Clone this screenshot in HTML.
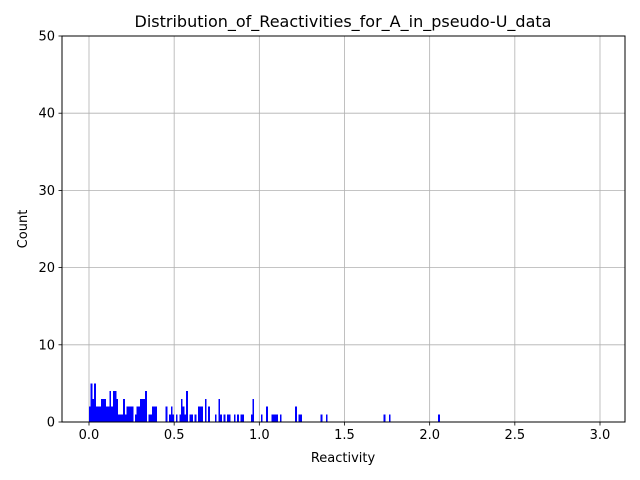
<!DOCTYPE html>
<html><head><meta charset="utf-8"><style>
body{margin:0;background:#fff}
svg{display:block;font-family:"DejaVu Sans","Liberation Sans",sans-serif}
</style></head><body>
<svg id="chart" width="640" height="480" viewBox="0 0 640 480">
<rect x="0" y="0" width="640" height="480" fill="#fff"/>
<g id="grid"></g>
<g id="bars" shape-rendering="crispEdges"></g>
<rect x="62" y="36" width="563" height="386" fill="none" stroke="#000" stroke-width="1"/>
<g id="ticks"></g>
<text x="343" y="27" text-anchor="middle" font-size="16">Distribution_of_Reactivities_for_A_in_pseudo-U_data</text>
<text x="343" y="462" text-anchor="middle" font-size="13">Reactivity</text>
<text x="27" y="229" text-anchor="middle" font-size="13" transform="rotate(-90 27 229)">Count</text>
</svg>
<script>
const binStarts = [0.00,0.01,0.02,0.03,0.04,0.05,0.06,0.07,0.08,0.09,0.10,0.11,0.12,0.13,0.14,0.15,0.16,0.17,0.18,0.19,0.20,0.21,0.22,0.23,0.24,0.25,0.27,0.28,0.29,0.30,0.31,0.32,0.33,0.35,0.36,0.37,0.38,0.39,0.45,0.47,0.48,0.49,0.51,0.53,0.54,0.55,0.56,0.57,0.59,0.60,0.62,0.64,0.65,0.66,0.68,0.70,0.74,0.76,0.77,0.79,0.81,0.82,0.85,0.87,0.89,0.90,0.95,0.96,1.01,1.04,1.07,1.08,1.09,1.10,1.12,1.21,1.23,1.24,1.36,1.39,1.73,1.76,2.05];
const counts    = [2,5,3,5,2,2,2,3,3,3,2,2,4,2,4,4,3,1,1,1,3,1,2,2,2,2,1,2,2,3,3,3,4,1,1,2,2,2,2,1,2,1,1,1,3,2,1,4,1,1,1,2,2,2,3,2,1,3,1,1,1,1,1,1,1,1,1,3,1,2,1,1,1,1,1,2,1,1,1,1,1,1,1];
const binWidth = 0.01;
const xTicks = [0.0,0.5,1.0,1.5,2.0,2.5,3.0];
const xTickLabels = ["0.0","0.5","1.0","1.5","2.0","2.5","3.0"];
const yTicks = [0,10,20,30,40,50];

const NS="http://www.w3.org/2000/svg";
const L=62,R=625,T=36,B=422;
const xMin=-0.1585,xMax=3.1468,yMin=0,yMax=50;
function xs(v){return L+(v-xMin)/(xMax-xMin)*(R-L);}
function ys(v){return B-(v-yMin)/(yMax-yMin)*(B-T);}
function mk(tag,attrs,parent){const e=document.createElementNS(NS,tag);for(const k in attrs)e.setAttribute(k,attrs[k]);parent.appendChild(e);return e;}
const grid=document.getElementById('grid'),bars=document.getElementById('bars'),ticks=document.getElementById('ticks');
xTicks.forEach((t,i)=>{
  const x=xs(t);
  const g=mk('line',{x1:x,x2:x,y1:T,y2:B,stroke:'#b0b0b0','stroke-width':0.8},grid);
  
  
  const tk=mk('line',{x1:x,x2:x,y1:B,y2:B+3.5,stroke:'#000','stroke-width':0.8},ticks);
  
  
  const lb=mk('text',{x:x,y:B+17,'text-anchor':'middle','font-size':13},ticks);
  lb.textContent=xTickLabels[i];
  
  
});
yTicks.forEach(t=>{
  const y=ys(t);
  const g=mk('line',{x1:L,x2:R,y1:y,y2:y,stroke:'#b0b0b0','stroke-width':0.8},grid);
  
  
  const tk=mk('line',{x1:L-3.5,x2:L,y1:y,y2:y,stroke:'#000','stroke-width':0.8},ticks);
  
  
  const lb=mk('text',{x:L-7,y:y+4.5,'text-anchor':'end','font-size':13},ticks);
  lb.textContent=String(t);
  
  
});
binStarts.forEach((v,i)=>{
  const x0=xs(v),x1=xs(v+binWidth),y=ys(counts[i]);
  const b=mk('rect',{x:x0,y:y,width:Math.max(x1-x0,1),height:ys(0)-y,fill:'#0000ff'},bars);
  
  
});
</script>
</body></html>
